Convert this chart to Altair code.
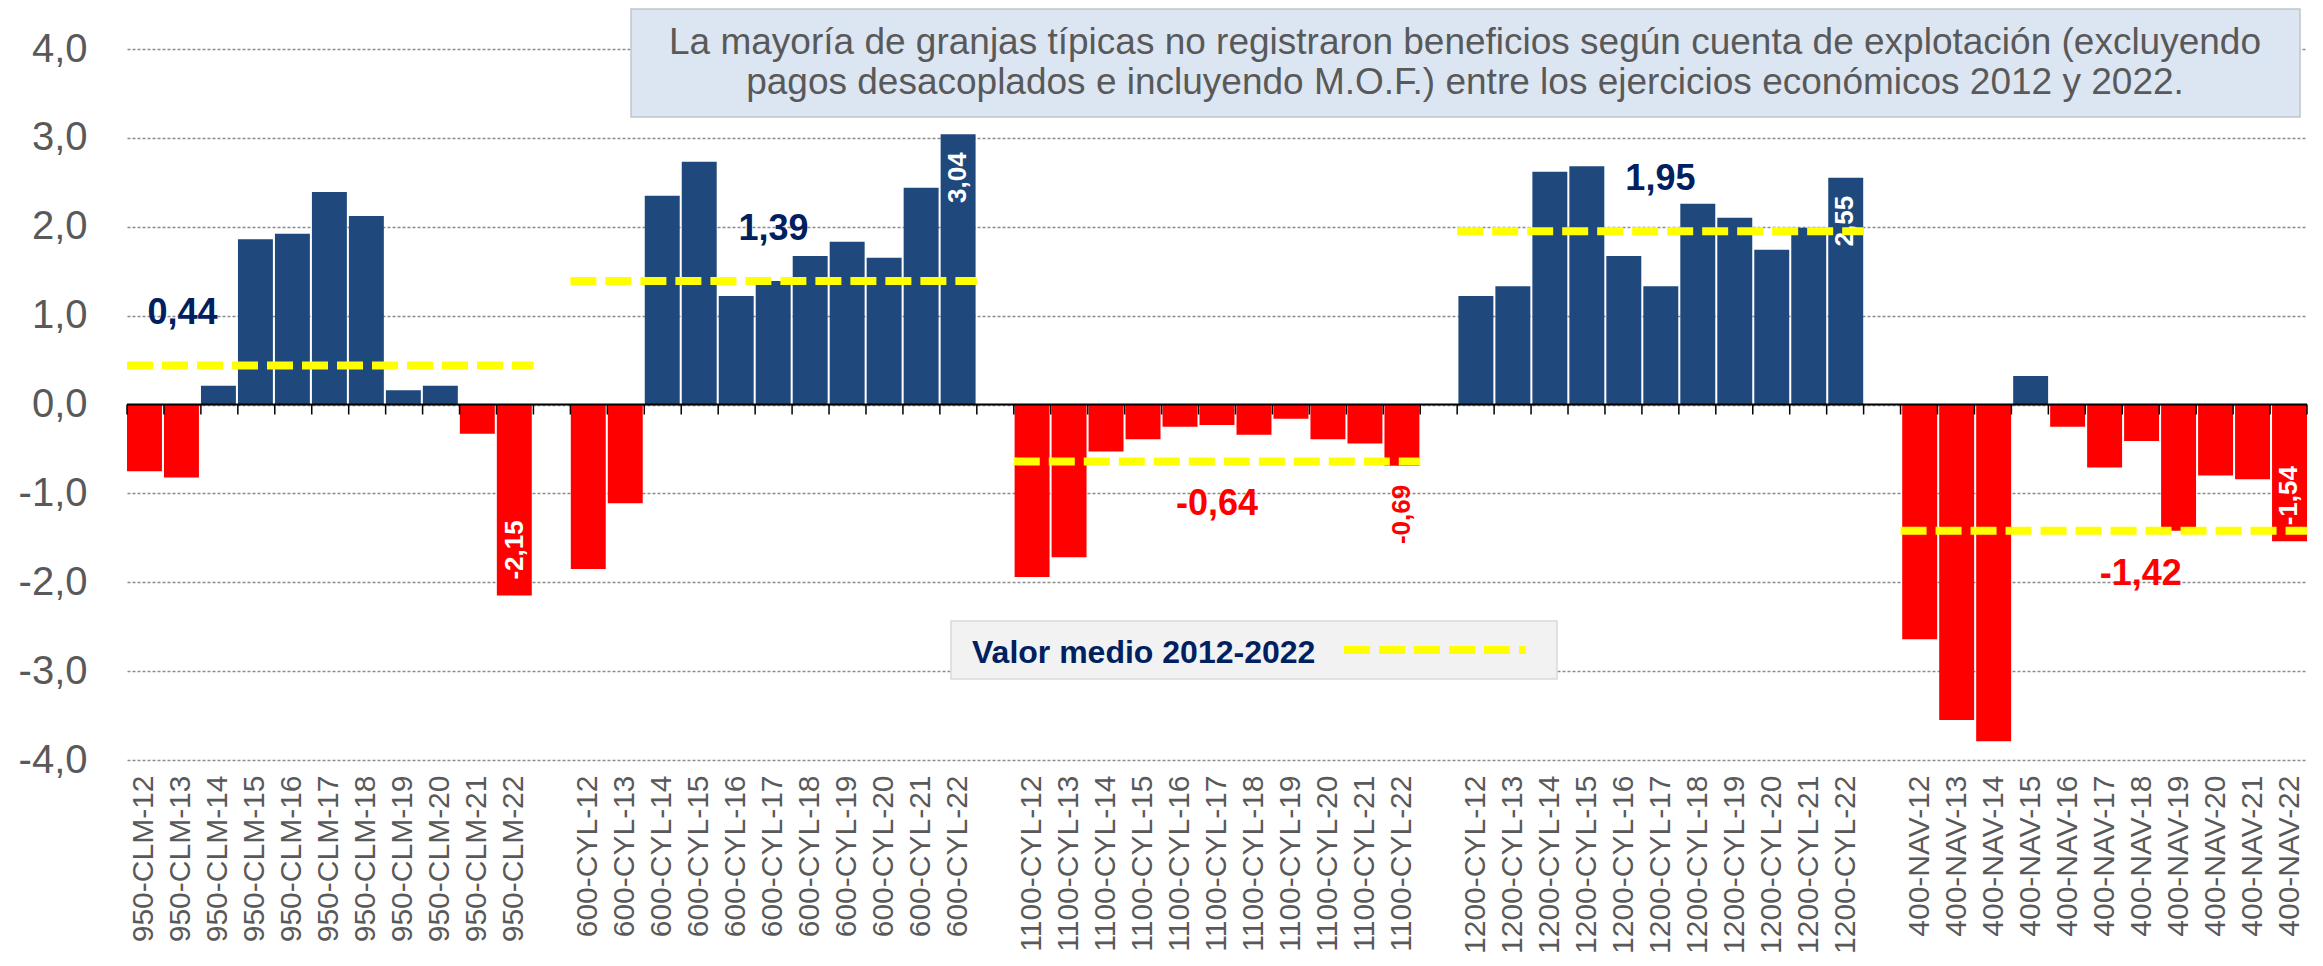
import altair as alt
import pandas as pd

# ---------------- data ----------------
groups = ["950-CLM", "600-CYL", "1100-CYL", "1200-CYL", "400-NAV"]
years = ["12", "13", "14", "15", "16", "17", "18", "19", "20", "21", "22"]
clm_950 = [-0.75, -0.82, 0.21, 1.86, 1.92, 2.39, 2.12, 0.16, 0.21, -0.33, -2.15]
cyl_600 = [-1.85, -1.11, 2.35, 2.73, 1.22, 1.39, 1.67, 1.83, 1.65, 2.44, 3.04]
cyl_1100 = [-1.94, -1.72, -0.53, -0.39, -0.25, -0.23, -0.34, -0.16, -0.39, -0.44, -0.69]
cyl_1200 = [1.22, 1.33, 2.62, 2.68, 1.67, 1.33, 2.26, 2.10, 1.74, 1.99, 2.55]
nav_400 = [-2.64, -3.55, -3.79, 0.32, -0.25, -0.71, -0.41, -1.42, -0.80, -0.84, -1.54]
series = [clm_950, cyl_600, cyl_1100, cyl_1200, nav_400]
mean_values = [0.44, 1.39, -0.64, 1.95, -1.42]
# where each mean label sits (year of the bar it is centred on)
mean_label_year = ["13", "17", "17", "17", "18"]
# how the label of the last bar of each group is drawn
end_label_style = ["in_neg", "in_pos", "out_neg", "in_pos", "in_neg"]

title_lines = [
    "La mayoría de granjas típicas no registraron beneficios según cuenta de explotación (excluyendo",
    "pagos desacoplados e incluyendo M.O.F.) entre los ejercicios económicos 2012 y 2022.",
]
legend_text = "Valor medio 2012-2022"

# ---------------- derived tables ----------------
def fmt(v):
    return f"{v:.2f}".replace(".", ",")

slots = []
bar_rows, mean_rows, end_rows, mean_lab_rows = [], [], [], []
for gi, (g, vals) in enumerate(zip(groups, series)):
    start = len(slots)
    for y, v in zip(years, vals):
        cat = f"{g}-{y}"
        slots.append(cat)
        bar_rows.append({"cat": cat, "value": v, "sign": "pos" if v >= 0 else "neg"})
    mean_rows.append({"start": start, "end": start + len(years), "mean": mean_values[gi]})
    mean_lab_rows.append({"cat": f"{g}-{mean_label_year[gi]}", "mean": mean_values[gi],
                          "text": fmt(mean_values[gi]),
                          "sign": "pos" if mean_values[gi] >= 0 else "neg"})
    end_rows.append({"cat": f"{g}-{years[-1]}", "value": vals[-1], "text": fmt(vals[-1]),
                     "style": end_label_style[gi]})
    if gi < len(groups) - 1:
        slots.append(f"gap{gi}")

bars_df = pd.DataFrame(bar_rows)
mean_df = pd.DataFrame(mean_rows)
end_df = pd.DataFrame(end_rows)
meanlab_df = pd.DataFrame(mean_lab_rows)
ticks_df = pd.DataFrame({"t": list(range(len(slots) + 1))})

# ---------------- styling ----------------
W, H = 2180, 711
FONT = "Liberation Sans"
BLUE = "#1F497D"
RED = "#FF0000"
NAVY = "#002060"
YELLOW = "#FFFF00"
GRAY_TXT = "#595959"
TICK_UNITS = 10 * 8 / H

xband = alt.Scale(domain=slots, paddingInner=0.055, paddingOuter=0)
xq = alt.Scale(domain=[0, len(slots)], nice=False, zero=False)
yscale = alt.Scale(domain=[-4, 4], nice=False, zero=False)

yaxis = alt.Axis(
    values=[-4, -3, -2, -1, 0, 1, 2, 3, 4],
    labelExpr="replace(replace(format(datum.value, '.1f'), '.', ','), '\u2212', '-')",
    labelFontSize=40, labelColor=GRAY_TXT, labelPadding=40, labelFont=FONT,
    domain=False, ticks=False, grid=True, gridDash=[3, 2], gridColor="#8C8C8C",
    gridWidth=1.3, title=None,
)
xaxis = alt.Axis(
    orient="bottom", labelAngle=-90, labelFontSize=30, labelColor=GRAY_TXT,
    labelPadding=15, labelFont=FONT, labelLimit=500, labelOverlap=False,
    labelExpr="indexof(datum.value, 'gap') == 0 ? '' : datum.value",
    ticks=False, domain=False, grid=False, title=None,
)

bars = alt.Chart(bars_df).mark_bar().encode(
    x=alt.X("cat:N", scale=xband, sort=slots, axis=xaxis),
    y=alt.Y("value:Q", scale=yscale, axis=yaxis),
    color=alt.Color("sign:N", scale=alt.Scale(domain=["pos", "neg"], range=[BLUE, RED]), legend=None),
)

zero_line = alt.Chart(alt.Data(values=[{}])).mark_rule(color="black", strokeWidth=2).encode(
    x=alt.X(datum=0, scale=xq, axis=None),
    x2=alt.X2(datum=len(slots)),
    y=alt.Y(datum=0, scale=yscale),
)

ticks = alt.Chart(ticks_df).mark_rule(color="black", strokeWidth=1.5).encode(
    x=alt.X("t:Q", scale=xq, axis=None),
    y=alt.Y(datum=0, scale=yscale),
    y2=alt.Y2(datum=-TICK_UNITS),
)

def end_layer(style, align, dx, color):
    return alt.Chart(end_df).transform_filter(alt.datum.style == style).mark_text(
        angle=270, align=align, baseline="middle", dx=dx, fontSize=26,
        fontWeight="bold", color=color, font=FONT,
    ).encode(
        x=alt.X("cat:N", scale=xband, sort=slots, axis=None),
        y=alt.Y("value:Q", scale=yscale),
        text="text:N",
    )

end_in_neg = end_layer("in_neg", "left", 16, "white")
end_in_pos = end_layer("in_pos", "right", -18, "white")
end_out_neg = end_layer("out_neg", "right", -19, RED)

mean_lines = alt.Chart(mean_df).mark_rule(color=YELLOW, strokeWidth=8, strokeDash=[26, 9]).encode(
    x=alt.X("start:Q", scale=xq, axis=None),
    x2="end:Q",
    y=alt.Y("mean:Q", scale=yscale),
)

def mean_lab_layer(sign, dy, color):
    return alt.Chart(meanlab_df).transform_filter(alt.datum.sign == sign).mark_text(
        align="center", baseline="middle", dy=dy, fontSize=36, fontWeight="bold",
        color=color, font=FONT,
    ).encode(
        x=alt.X("cat:N", scale=xband, sort=slots, axis=None),
        y=alt.Y("mean:Q", scale=yscale),
        text="text:N",
    )

mean_lab_pos = mean_lab_layer("pos", -52, NAVY)
mean_lab_neg = mean_lab_layer("neg", 43, RED)

one = alt.Data(values=[{}])
title_box = alt.Chart(one).mark_rect(fill="#DCE6F2", stroke="#BFC5CC", strokeWidth=1.5).encode(
    x=alt.value(504), x2=alt.value(2173), y=alt.value(-40), y2=alt.value(68),
)
title_text = alt.Chart(one).mark_text(
    text=title_lines, align="center", baseline="alphabetic", fontSize=37,
    lineHeight=40, color=GRAY_TXT, font=FONT,
).encode(x=alt.value(1338), y=alt.value(5))

legend_box = alt.Chart(one).mark_rect(fill="#F2F2F2", stroke="#D9D9D9", strokeWidth=1.5).encode(
    x=alt.value(824), x2=alt.value(1430), y=alt.value(572), y2=alt.value(630),
)
legend_label = alt.Chart(one).mark_text(
    text=legend_text, align="left", baseline="alphabetic", fontSize=32,
    fontWeight="bold", color=NAVY, font=FONT,
).encode(x=alt.value(845), y=alt.value(614))
legend_line = alt.Chart(one).mark_rule(color=YELLOW, strokeWidth=8, strokeDash=[26, 9]).encode(
    x=alt.value(1217), x2=alt.value(1399), y=alt.value(601),
)

chart = alt.layer(
    bars, zero_line, ticks, end_in_neg, end_in_pos, end_out_neg, mean_lines,
    mean_lab_pos, mean_lab_neg, title_box, title_text, legend_box, legend_label, legend_line,
).resolve_scale(x="independent").properties(
    width=W, height=H,
    autosize=alt.AutoSizeParams(type="none"),
    padding={"left": 119, "top": 41, "right": 8, "bottom": 194},
).configure(font=FONT).configure_view(stroke=None)

chart.save("out.html", embed_options={"renderer": "svg", "actions": False})
